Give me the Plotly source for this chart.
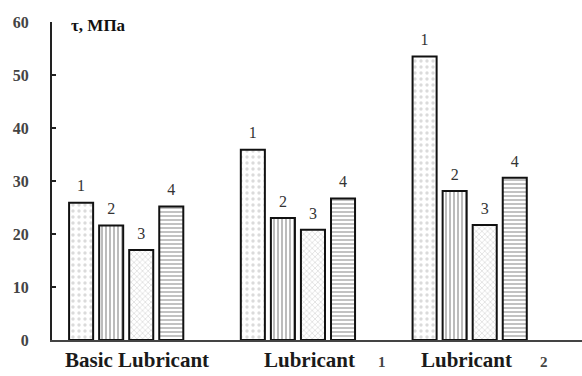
import plotly.graph_objects as go

# Shear strength tau (MPa) for four specimens under each lubricant
categories = ["Basic Lubricant", "Lubricant 1", "Lubricant 2"]
series_names = ["1", "2", "3", "4"]
tau_1 = [25.9, 35.9, 53.5]
tau_2 = [21.6, 23.0, 28.1]
tau_3 = [17.0, 20.8, 21.7]
tau_4 = [25.2, 26.7, 30.6]
y_ticks = [0, 10, 20, 30, 40, 50, 60]

values = [tau_1, tau_2, tau_3, tau_4]

# hatch style for each specimen series
patterns = [
    dict(shape=".", fgcolor="#b8b8b8", bgcolor="white", size=6, solidity=0.25),
    dict(shape="|", fgcolor="#6a6a6a", bgcolor="white", size=4, solidity=0.45),
    dict(shape="x", fgcolor="#9a9a9a", bgcolor="white", size=4, solidity=0.25),
    dict(shape="-", fgcolor="#777777", bgcolor="white", size=4, solidity=0.45),
]

serif = "Liberation Serif"
GAP = 0.30

fig = go.Figure()
for i, (name, vals, pat) in enumerate(zip(series_names, values, patterns)):
    fig.add_trace(go.Bar(
        x=categories,
        y=vals,
        name=name,
        offsetgroup=str(i),
        alignmentgroup="tau",
        marker=dict(color="white", pattern=pat,
                    line=dict(color="#111", width=2)),
    ))
# series numbers above each bar, aligned with the grouped bars
for i, (name, vals) in enumerate(zip(series_names, values)):
    fig.add_trace(go.Scatter(
        x=categories,
        y=vals,
        mode="markers+text",
        text=[name] * len(vals),
        textposition="top center",
        textfont=dict(family=serif, size=16, color="#333"),
        marker=dict(size=10, color="rgba(0,0,0,0)"),
        offsetgroup=str(i),
        alignmentgroup="tau",
        cliponaxis=False,
        hoverinfo="skip",
        showlegend=False,
    ))

fig.update_layout(
    width=582,
    height=376,
    margin=dict(l=52, r=0, t=22, b=36),
    paper_bgcolor="white",
    plot_bgcolor="white",
    barmode="group",
    bargap=GAP,
    bargroupgap=0.2,
    scattermode="group",
    scattergap=GAP,
    showlegend=False,
    font=dict(family=serif),
)

fig.update_xaxes(
    range=[-0.432, 2.654],
    showline=True, linecolor="#444", linewidth=2,
    ticks="", showticklabels=False, showgrid=False, zeroline=False,
)
fig.update_yaxes(
    range=[0, 60],
    tickvals=y_ticks,
    showline=True, linecolor="#222", linewidth=2,
    ticks="inside", ticklen=4, tickwidth=1.5, tickcolor="#222",
    tickfont=dict(family=serif, size=16, color="#444", weight="bold"),
    ticklabelstandoff=18,
    showgrid=False, zeroline=False,
)

# unit label in the top-left corner of the plot
fig.add_annotation(
    text="τ, МПа", xref="paper", yref="paper", x=0.032, y=0.99,
    xanchor="left", yanchor="middle", showarrow=False,
    font=dict(family=serif, size=17, color="#111", weight="bold"),
)

# group captions under the axis: main word plus a small trailing number
caption_shift = [11, 12, -3]
number_shift = [None, 84, 74]
for cat, dx, nx in zip(categories, caption_shift, number_shift):
    if nx is None:
        main, num = cat, None
    else:
        main, num = cat.rsplit(" ", 1)
    fig.add_annotation(
        text=main, xref="x", yref="paper", x=cat, y=-0.108,
        xanchor="center", yanchor="bottom", xshift=dx, showarrow=False,
        font=dict(family=serif, size=21, color="#1a1a1a", weight="bold"),
    )
    if num is not None:
        fig.add_annotation(
            text=num, xref="x", yref="paper", x=cat, y=-0.108,
            xanchor="center", yanchor="bottom", xshift=nx, yshift=2,
            showarrow=False,
            font=dict(family=serif, size=15, color="#444", weight="bold"),
        )

fig.write_html("out.html")
